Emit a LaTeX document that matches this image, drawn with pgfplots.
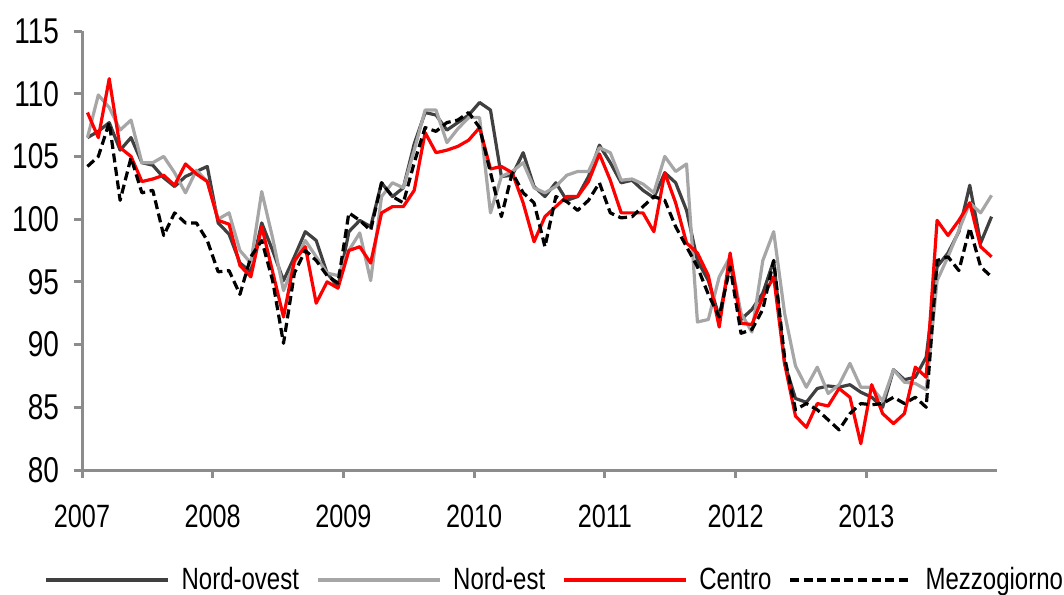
\documentclass[border=0pt]{standalone}
\usepackage{fontspec}
\setmainfont{Liberation Sans}
\usepackage{graphicx}
\usepackage{pgfplots}
\pgfplotsset{compat=1.18}
\usepackage{pgfplotstable}
\definecolor{cNO}{HTML}{404040}
\definecolor{cNE}{HTML}{A6A6A6}
\definecolor{cAX}{HTML}{8C8C8C}
\newcommand{\sy}[1]{\scalebox{1}[1.28]{#1}}

\pgfplotstableread{
m no ne ce me
0 106.5 106.5 108.5 104.2
1 107.0 109.9 106.5 105.0
2 107.7 108.9 111.2 107.7
3 105.5 107.1 105.7 101.5
4 106.5 107.9 105.0 104.9
5 104.5 104.5 103.0 102.1
6 104.3 104.5 103.2 102.3
7 103.3 105.0 103.5 98.7
8 102.6 103.7 102.7 100.5
9 103.4 102.1 104.4 99.7
10 103.8 103.9 103.6 99.7
11 104.2 103.0 103.0 98.3
12 99.7 100.0 99.9 95.8
13 98.8 100.5 99.6 95.9
14 96.5 97.5 96.3 94.0
15 95.8 96.5 95.4 97.0
16 99.7 102.2 99.4 98.3
17 97.5 98.5 95.8 95.1
18 95.1 94.3 92.2 90.1
19 97.0 96.5 96.7 95.7
20 99.0 98.3 97.8 97.5
21 98.3 97.0 93.3 96.7
22 95.7 95.7 95.0 95.5
23 94.6 95.5 94.5 94.9
24 99.0 97.5 97.5 100.5
25 99.9 98.9 97.8 99.9
26 99.4 95.1 96.5 99.1
27 102.9 101.8 100.5 102.9
28 101.8 102.9 101.0 101.8
29 102.5 102.5 101.0 101.3
30 106.0 105.5 102.3 104.5
31 108.5 108.7 106.9 107.3
32 108.3 108.7 105.3 107.0
33 107.1 106.1 105.5 107.7
34 107.7 107.2 105.8 107.9
35 108.3 108.1 106.3 108.5
36 109.3 108.1 107.3 107.3
37 108.7 100.5 104.0 103.7
38 103.4 103.4 104.2 100.2
39 103.5 103.8 103.7 103.7
40 105.3 104.5 101.3 102.1
41 102.6 102.5 98.2 101.3
42 101.8 102.1 100.2 97.8
43 102.9 102.6 101.0 101.8
44 101.5 103.5 101.8 101.4
45 101.8 103.8 101.8 100.7
46 103.4 103.8 103.0 101.5
47 105.9 105.7 105.2 102.9
48 104.5 105.3 103.1 100.5
49 102.9 103.1 100.5 100.1
50 103.1 103.2 100.5 100.2
51 102.3 102.8 100.5 101.0
52 101.7 102.1 99.0 101.8
53 103.7 105.0 103.7 101.5
54 102.9 103.8 101.3 99.4
55 100.7 104.4 98.1 97.8
56 96.7 91.8 97.3 96.2
57 95.1 92.0 95.5 94.0
58 92.2 95.4 91.4 92.2
59 96.5 97.0 97.3 96.2
60 92.0 92.5 91.7 90.9
61 92.8 91.0 91.6 91.2
62 94.1 96.7 93.8 92.8
63 96.7 99.0 95.4 96.7
64 88.5 92.5 88.5 89.0
65 85.7 88.3 84.3 84.8
66 85.4 86.6 83.4 85.3
67 86.5 88.2 85.3 84.8
68 86.7 86.1 85.1 84.0
69 86.6 86.8 86.5 83.2
70 86.8 88.5 85.8 84.5
71 86.2 86.6 82.1 85.3
72 85.8 86.6 86.8 85.2
73 85.0 85.5 84.5 85.3
74 88.0 88.0 83.7 85.8
75 87.2 87.0 84.5 85.3
76 87.4 86.9 88.2 85.8
77 89.0 86.4 87.4 85.0
78 96.2 95.1 99.9 96.7
79 97.3 97.0 98.7 97.0
80 99.0 99.1 99.9 95.9
81 102.7 101.3 101.3 99.3
82 98.1 100.5 97.8 96.2
83 100.2 101.9 97.0 95.4
}\data

\begin{document}
\begin{tikzpicture}
\path[use as bounding box] (-41pt,-62pt) rectangle (491pt,235pt);
\begin{axis}[
  at={(0,0)}, anchor=south west,
  scale only axis, width=457.5pt, height=219.5pt,
  xmin=-0.5, xmax=83.5, ymin=80, ymax=115,
  axis lines*=left,
  axis line style={draw=cAX, line width=1.5pt, -},
  tick align=outside, major tick length=4pt,
  tick style={draw=cAX, line width=1.5pt},
  xtick={-0.5,11.5,23.5,35.5,47.5,59.5,71.5},
  xticklabels={\sy{2007},\sy{2008},\sy{2009},\sy{2010},\sy{2011},\sy{2012},\sy{2013}},
  ytick={80,85,90,95,100,105,110,115},
  yticklabels={\sy{80},\sy{85},\sy{90},\sy{95},\sy{100},\sy{105},\sy{110},\sy{115}},
  tick label style={text=black},
  xticklabel style={font=\fontsize{12.6}{14}\selectfont, yshift=-10pt},
  yticklabel style={font=\fontsize{14}{16}\selectfont, xshift=-4pt},
  legend columns=4,
  legend style={draw=none, fill=none, at={(rel axis cs:0,0)}, anchor=west,
    xshift=-19pt, yshift=-55pt, inner sep=0pt,
    font=\fontsize{12}{14}\selectfont,
    nodes={inner sep=0pt, anchor=west},
    /tikz/every odd column/.append style={column sep=6pt},
    /tikz/every even column/.append style={column sep=8.5pt}},
  legend image code/.code={\draw[#1] (0pt,0pt) -- (61pt,0pt);},
  every axis plot/.append style={line width=1.6pt, line join=round},
]
\addplot[cNO] table[x=m, y=no] {\data};
\addlegendentry{\sy{Nord-ovest}}
\addplot[cNE] table[x=m, y=ne] {\data};
\addlegendentry{\sy{Nord-est}}
\addplot[red] table[x=m, y=ce] {\data};
\addlegendentry{\sy{Centro}}
\addplot[black, dash pattern=on 4.5pt off 2.3pt] table[x=m, y=me] {\data};
\addlegendentry{\sy{Mezzogiorno}}
\end{axis}
\end{tikzpicture}
\end{document}
